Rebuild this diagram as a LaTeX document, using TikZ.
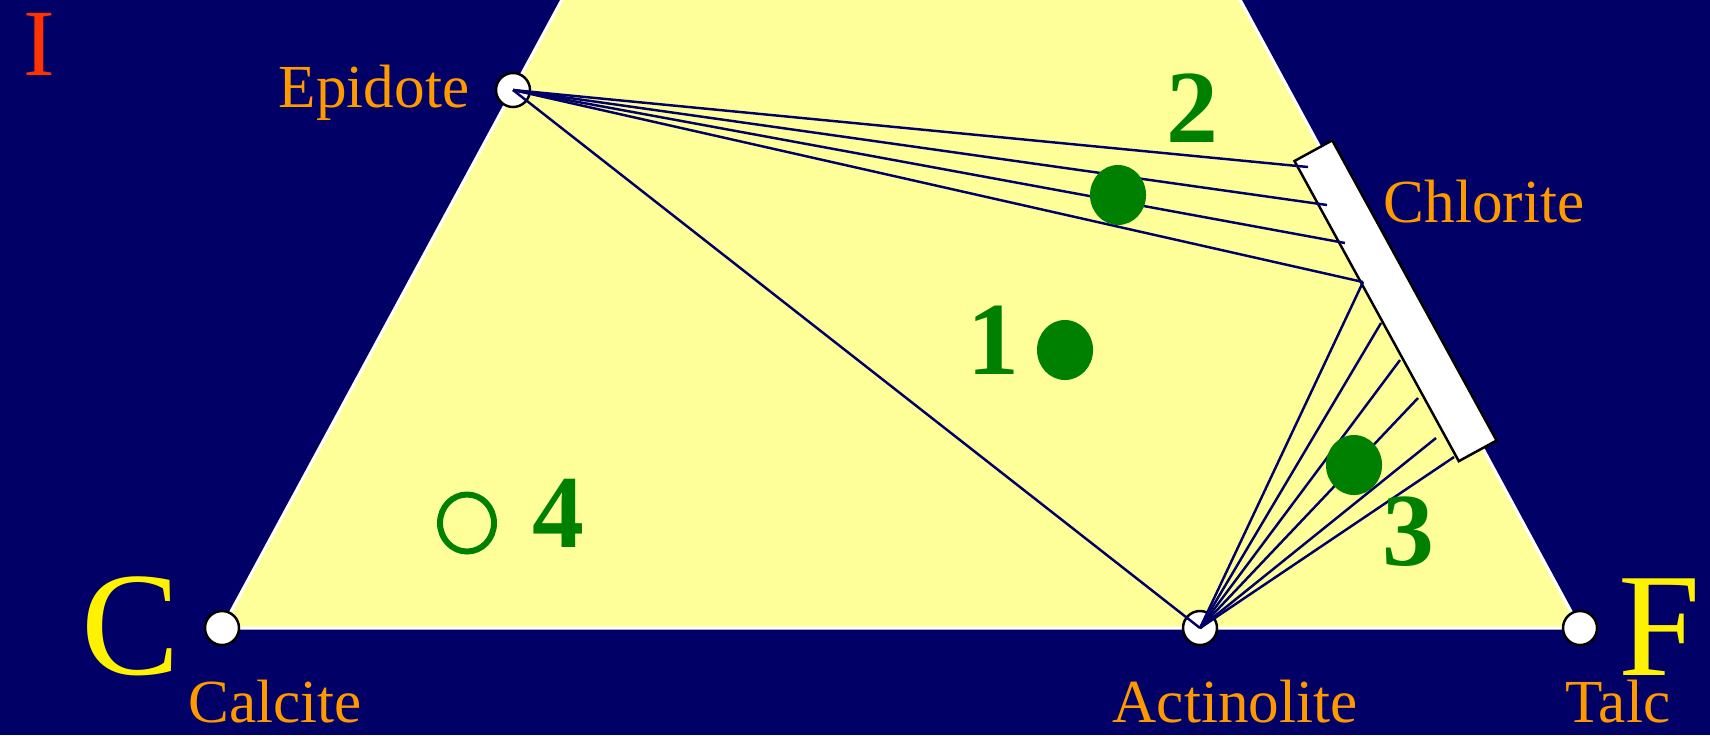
\documentclass[tikz,border=0pt]{standalone}
\usepackage{fontspec}
\setmainfont{Liberation Serif}
\usetikzlibrary{shapes.geometric}
\definecolor{navy}{HTML}{000066}
\definecolor{paleyellow}{HTML}{FFFF99}
\definecolor{labelorange}{HTML}{FF9900}
\definecolor{dotgreen}{HTML}{008000}
\definecolor{redorange}{HTML}{FF3300}
\tikzset{
    endmember/.style={circle, draw=black, fill=white, line width=0.7pt,
        minimum size=0.34cm, inner sep=0pt},
    mineral/.style={text=labelorange, font=\fontsize{17.4}{20}\selectfont, anchor=base, inner sep=0pt},
    apexlbl/.style={text=yellow, font=\fontsize{42}{48}\selectfont, anchor=base, inner sep=0pt},
    bulknum/.style={text=dotgreen, font=\fontsize{29.5}{34}\selectfont\bfseries, anchor=base, inner sep=0pt},
    tie/.style={draw=navy, line width=0.7pt},
    bulk/.style={ellipse, fill=dotgreen, minimum width=0.56cm, minimum height=0.6cm, inner sep=0pt},
}

\begin{document}
\begin{tikzpicture}[x=0.01cm, y=-0.01cm]
\useasboundingbox (0,0) rectangle (1710,735);
\fill[navy] (0,0) rectangle (1710,735);
% triangle C - F (apex off the page)
\coordinate (C) at (222,628);
\coordinate (F) at (1580,628);
\coordinate (apex) at (901,-627);
\coordinate (E) at (513,90);
\coordinate (A) at (1200,628);
\begin{scope}
    \clip (0,0) rectangle (1710,735);
    \filldraw[fill=paleyellow, draw=white, line width=0.85pt] (C) -- (apex) -- (F) -- cycle;
\end{scope}
% chlorite solid solution
\node[draw=black, fill=white, line width=0.7pt, minimum width=3.42cm, minimum height=0.43cm,
    inner sep=0pt, rotate=-61.3] (chl) at (1395.5,300.75) {};
\foreach \i/\x/\y in {1/1308/167, 2/1327/205, 3/1345/243, 4/1363/282, 5/1381/323,
    6/1400/360, 7/1418/398, 8/1436/438, 9/1454/457}
    \coordinate (k\i) at (\x,\y);
% end members
\node[endmember] (cal) at (C) {};
\node[endmember] (tlc) at (F) {};
\node[endmember] (ep) at (E) {};
\node[endmember] (act) at (A) {};
% tie lines
\draw[tie] (ep.center) -- (act.center);
\foreach \i in {1,...,4}
    \draw[tie] (ep.center) -- (k\i);
\foreach \i in {4,...,9}
    \draw[tie] (act.center) -- (k\i);
% bulk compositions
\node[bulk] (b1) at (1065,350) {};
\node[bulk] (b2) at (1118,195) {};
\node[bulk] (b3) at (1354,465) {};
\node[ellipse, draw=dotgreen, line width=1.7pt, minimum width=0.54cm, minimum height=0.57cm,
    inner sep=0pt] (b4) at (467,523) {};
\node[bulknum] (n1) at (993,374) {1};
\node[bulknum] (n2) at (1192,142) {2};
\node[bulknum] (n3) at (1408,565) {3};
\node[bulknum] (n4) at (558,547) {4};
% labels
\node[text=redorange, font=\fontsize{27}{30}\selectfont, anchor=base, inner sep=0pt] (facies) at (39,75) {I};
\node[apexlbl] (lC) at (131,674) {C};
\node[apexlbl] (lF) at (1660,675) {F};
\node[mineral] (lep) at (374,107) {Epidote};
\node[mineral] (lchl) at (1484,222) {Chlorite};
\node[mineral] (lcal) at (275,722) {Calcite};
\node[mineral] (lact) at (1235,722) {Actinolite};
\node[mineral] (ltlc) at (1618,722) {Talc};
\end{tikzpicture}
\end{document}
